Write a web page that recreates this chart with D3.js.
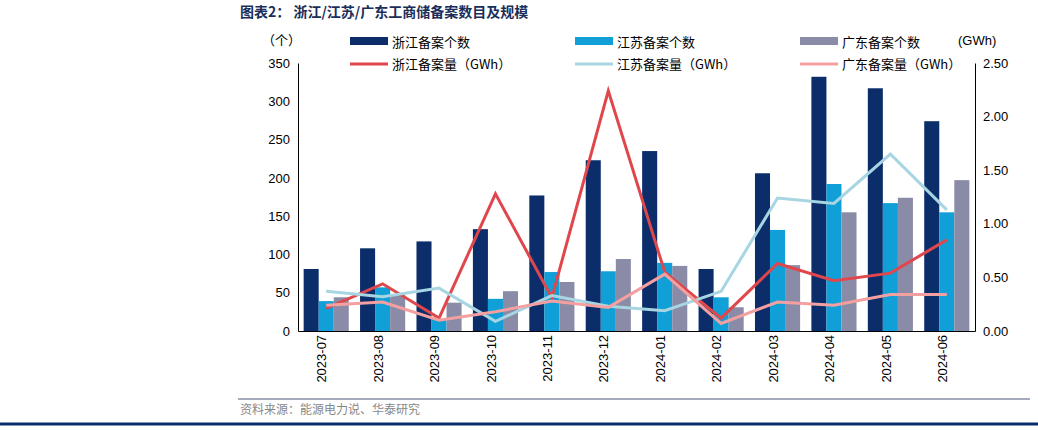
<!DOCTYPE html>
<html><head><meta charset="utf-8">
<script src="https://cdn.jsdelivr.net/npm/d3@7"></script>
<style>body{margin:0;background:#fff;font-family:"Noto Sans CJK SC","DejaVu Sans",sans-serif}</style>
</head><body><svg id="c" width="1038" height="430"></svg>
<script>
const months = ['2023-07','2023-08','2023-09','2023-10','2023-11','2023-12','2024-01','2024-02','2024-03','2024-04','2024-05','2024-06'];
const zjCount = [81,108,117,133,177,223,235,81,206,332,317,274];
const jsCount = [39,57,16,42,77,78,89,44,132,192,167,155];
const gdCount = [44,48,37,52,64,94,85,31,86,155,174,197];
const zjGwh = [0.21,0.44,0.12,1.28,0.31,2.24,0.55,0.12,0.63,0.47,0.54,0.85];
const jsGwh = [0.37,0.32,0.40,0.09,0.33,0.23,0.19,0.37,1.24,1.19,1.65,1.13];
const gdGwh = [0.24,0.27,0.10,0.18,0.28,0.22,0.53,0.07,0.27,0.24,0.34,0.34];
const leftTicks = [0,50,100,150,200,250,300,350];
const rightTicks = [0,0.5,1,1.5,2,2.5];

const svg = d3.select('#c');
const m = {l:298, r:975, t:63, b:331};
const x = d3.scaleBand().domain(months).range([m.l, m.r]).paddingInner(0.2).paddingOuter(0.1);
const yL = d3.scaleLinear().domain([0,350]).range([m.b, m.t]);
const yR = d3.scaleLinear().domain([0,2.5]).range([m.b, m.t]);

// title
svg.append('text').attr('x',240).attr('y',17).attr('font-size',14).attr('font-weight','bold').attr('fill','#1a2e5a')
  .text('图表2：  浙江/江苏/广东工商储备案数目及规模');

// axes
const axL = svg.append('g').attr('transform',`translate(${m.l},0)`).call(d3.axisLeft(yL).tickValues(leftTicks).tickSize(0).tickPadding(8));
const axR = svg.append('g').attr('transform',`translate(${m.r},0)`).call(d3.axisRight(yR).tickValues(rightTicks).tickFormat(d3.format('.2f')).tickSize(0).tickPadding(8));
const axB = svg.append('g').attr('transform',`translate(0,${m.b})`).call(d3.axisBottom(x).tickSize(0).tickPadding(6));
[axL,axR].forEach(a=>a.selectAll('text').attr('font-size',13).attr('font-family','Liberation Sans, Arial').attr('fill','#000'));
[axL,axR,axB].forEach(a=>a.select('.domain').attr('stroke','#000'));
axB.selectAll('text').attr('font-size',13).attr('font-family','Liberation Sans, Arial').attr('fill','#000')
  .attr('transform','rotate(-90)').attr('text-anchor','end').attr('dx','-0.3em').attr('dy','-0.45em');
axB.selectAll('.tick').append('line').attr('x1',d=>x.step()/2).attr('x2',d=>x.step()/2).attr('y2',0);

svg.append('text').attr('x',262).attr('y',45).attr('font-size',13).text('（个）');
svg.append('text').attr('x',958).attr('y',45).attr('font-size',13).attr('font-family','Liberation Sans, Arial').text('(GWh)');

// bars
const bw = x.bandwidth()/3;
const series = [[zjCount,'#0b2e6b'],[jsCount,'#109fd6'],[gdCount,'#8a8ba6']];
series.forEach(([vals,col],i)=>{
  svg.append('g').selectAll('rect').data(vals).join('rect')
    .attr('x',(d,j)=>x(months[j])+i*bw).attr('width',bw)
    .attr('y',d=>yL(d)).attr('height',d=>m.b-yL(d)).attr('fill',col);
});

// lines
const lines = [[zjGwh,'#e0474c'],[jsGwh,'#a8d5e2'],[gdGwh,'#f4a0a0']];
const line = d3.line().x((d,j)=>x(months[j])+x.bandwidth()/2).y(d=>yR(d));
lines.forEach(([vals,col])=>{
  svg.append('path').datum(vals).attr('d',line).attr('fill','none').attr('stroke',col).attr('stroke-width',3);
});

// legend
const leg = [
  ['rect','#0b2e6b','浙江备案个数',350,42],['rect','#109fd6','江苏备案个数',575,42],['rect','#8a8ba6','广东备案个数',800,42],
  ['line','#e0474c','浙江备案量（GWh）',350,64],['line','#a8d5e2','江苏备案量（GWh）',575,64],['line','#f4a0a0','广东备案量（GWh）',800,64]];
leg.forEach(([t,col,label,lx,ly])=>{
  if(t==='rect') svg.append('rect').attr('x',lx).attr('y',ly-5).attr('width',38).attr('height',8).attr('fill',col);
  else svg.append('line').attr('x1',lx).attr('x2',lx+38).attr('y1',ly).attr('y2',ly).attr('stroke',col).attr('stroke-width',3);
  svg.append('text').attr('x',lx+42).attr('y',ly+5).attr('font-size',13).text(label);
});

// footer
svg.append('text').attr('x',240).attr('y',414).attr('font-size',12).attr('fill','#888').text('资料来源：能源电力说、华泰研究');
svg.append('line').attr('x1',0).attr('x2',1038).attr('y1',424).attr('y2',424).attr('stroke','#0b2e6b').attr('stroke-width',3);
svg.append('line').attr('x1',238).attr('x2',1030).attr('y1',399).attr('y2',399).attr('stroke','#1a2e5a').attr('stroke-width',0.8);
</script></body></html>
